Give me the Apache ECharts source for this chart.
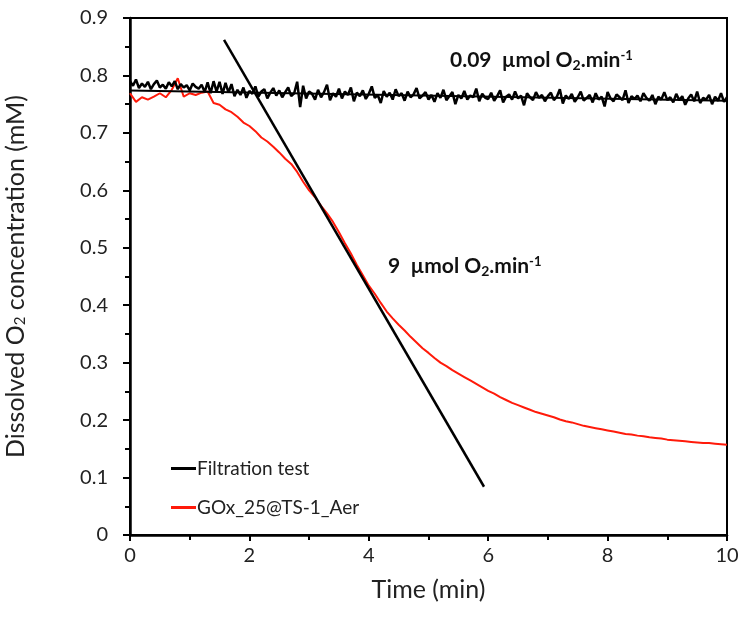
<!DOCTYPE html>
<html>
<head>
<meta charset="utf-8">
<script src="https://cdn.jsdelivr.net/npm/echarts@6/dist/echarts.min.js"></script>
<style>html,body{margin:0;padding:0;background:#fff;}#chart{width:743px;height:617px;}</style>
</head>
<body>
<div id="chart"></div>
<script>
// Filtration test (black), sampled every 0.05 min from t = 0
const blackStart = 0;
const blackStep = 0.05;
const blackValues = [
0.790,0.782,0.793,0.778,0.786,0.780,0.789,0.776,0.785,0.791,0.779,0.784,0.777,0.788,0.781,0.790,0.776,0.785,0.779,0.783,0.774,0.786,0.780,0.777,0.784,
0.771,0.788,0.769,0.790,0.772,0.789,0.768,0.787,0.770,0.785,
0.764,0.775,0.766,0.779,0.761,0.773,0.768,0.781,0.763,0.772,0.776,0.760,0.770,0.778,0.765,0.774,0.762,0.771,0.779,0.764,0.769,
0.789,0.745,0.782,0.760,0.772,
0.768,0.758,0.775,0.762,0.771,0.784,0.757,0.769,0.763,0.777,0.760,0.772,0.766,0.779,0.755,0.770,0.764,0.774,0.759,0.768,
0.781,0.761,0.766,0.752,0.773,0.763,0.770,0.758,0.776,0.764,0.769,0.756,0.772,0.762,0.767,0.778,0.760,0.765,0.771,0.758,
0.766,0.754,0.769,0.761,0.775,0.757,0.764,0.771,0.750,0.766,0.760,0.773,0.758,0.765,0.762,0.777,0.755,0.768,0.761,0.759,
0.770,0.756,0.764,0.774,0.753,0.763,0.767,0.758,0.772,0.760,0.765,0.748,0.769,0.762,0.757,0.771,0.761,0.766,0.755,0.764,
0.770,0.757,0.763,0.776,0.751,0.765,0.759,0.768,0.754,0.762,0.772,0.756,0.761,0.766,0.753,0.769,0.758,0.763,0.746,0.771,
0.760,0.755,0.767,0.762,0.757,0.774,0.752,0.764,0.759,0.765,0.755,0.769,0.761,0.756,0.766,0.750,0.763,0.758,0.771,0.757,
0.762,0.753,0.768,0.757,0.764,0.749,0.760,0.767,0.755,0.772,0.752,0.761,0.758,0.766,0.750,0.763,0.756,0.769,0.754,0.762
];
// GOx_25@TS-1_Aer (red), sampled every 0.1 min from t = 0
const redStart = 0;
const redStep = 0.1;
const redValues = [
0.769,0.754,0.762,0.758,0.763,0.769,0.762,0.775,0.795,0.763,0.769,0.766,0.770,
0.772,0.752,0.749,0.741,0.736,0.728,0.718,0.712,0.703,0.692,0.685,0.676,0.666,0.655,0.646,0.632,0.615,
0.600,0.588,0.573,0.560,0.545,0.527,0.508,0.490,0.470,0.452,0.434,0.420,0.404,0.389,0.377,0.366,0.356,0.345,0.335,0.325,
0.317,0.308,0.300,0.294,0.287,0.281,0.275,0.269,0.263,0.257,0.251,0.246,0.240,0.235,0.230,0.226,0.222,0.218,0.214,0.211,
0.208,0.205,0.201,0.198,0.196,0.193,0.190,0.188,0.186,0.184,0.182,0.180,0.178,0.176,0.175,0.173,0.172,0.170,0.169,0.168,
0.166,0.165,0.164,0.163,0.162,0.161,0.160,0.160,0.159,0.158,0.157
];
// Linear fits
const flatFitX = [0, 10];
const flatFitY = [0.774, 0.756];
const tangentX = [1.575, 5.93];
const tangentY = [0.862, 0.084];
// Axis ticks
const xMin = 0, xMax = 10, xInterval = 2;
const yMin = 0, yMax = 0.9, yInterval = 0.1;
const seriesNames = ['Filtration test', 'GOx_25@TS-1_Aer'];

const FONT = 'Lato';
const chart = echarts.init(document.getElementById('chart'));
const toPairs = (start, step, vals) => vals.map((v, i) => [+(start + i * step).toFixed(3), v]);
const zip = (xs, ys) => xs.map((x, i) => [x, ys[i]]);
const annRich = {
  sub: { fontSize: 14, fontWeight: 'bold', verticalAlign: 'bottom', padding: [9, 0, 0, 0], fontFamily: FONT, fill: '#111' },
  sup: { fontSize: 13, fontWeight: 'bold', verticalAlign: 'top', padding: [0, 0, 8, 0], fontFamily: FONT, fill: '#111' }
};

chart.setOption({
  animation: false,
  backgroundColor: '#fff',
  textStyle: { fontFamily: FONT },
  grid: { left: 130, right: 16, top: 18, bottom: 82, containLabel: false, outerBoundsMode: 'none',
    show: true, borderColor: '#000', borderWidth: 2, backgroundColor: 'transparent' },
  xAxis: {
    type: 'value', min: xMin, max: xMax, interval: xInterval,
    name: 'Time (min)', nameLocation: 'middle', nameGap: 42,
    nameTextStyle: { fontSize: 25, color: '#222', fontFamily: FONT },
    axisLine: { show: true, lineStyle: { color: '#000', width: 2.5 } },
    axisTick: { show: true, length: 6, inside: false, lineStyle: { color: '#000', width: 2 } },
    minorTick: { show: true, splitNumber: 2, length: 5, lineStyle: { color: '#000', width: 2 } },
    axisLabel: { fontSize: 20, color: '#222', margin: 11, fontFamily: FONT },
    splitLine: { show: false }
  },
  yAxis: {
    type: 'value', min: yMin, max: yMax, interval: yInterval,
    name: 'Dissolved O{sub|2} concentration (mM)', nameLocation: 'middle', nameGap: 102,
    nameTextStyle: { fontSize: 25, color: '#222', fontFamily: FONT,
      rich: { sub: { fontSize: 15, verticalAlign: 'bottom', padding: [10, 0, 0, 0], color: '#222', fontFamily: FONT } } },
    axisLine: { show: true, lineStyle: { color: '#000', width: 2.5 } },
    axisTick: { show: true, length: 7, lineStyle: { color: '#000', width: 2 } },
    minorTick: { show: true, splitNumber: 2, length: 5, lineStyle: { color: '#000', width: 2 } },
    axisLabel: { fontSize: 20, color: '#222', margin: 22, fontFamily: FONT,
      formatter: v => (v === 0 ? '0' : v.toFixed(1)) },
    splitLine: { show: false }
  },
  legend: {
    data: seriesNames, orient: 'vertical', left: 166, top: 454,
    itemWidth: 25, itemHeight: 3, itemGap: 20, icon: 'rect',
    textStyle: { fontSize: 19, color: '#222', fontFamily: FONT, padding: [0, 0, 0, -4] }
  },
  series: [
    { name: seriesNames[0], type: 'line', data: toPairs(blackStart, blackStep, blackValues), showSymbol: false,
      lineStyle: { color: '#000', width: 2.5 }, itemStyle: { color: '#000' }, z: 3 },
    { name: seriesNames[1], type: 'line', data: toPairs(redStart, redStep, redValues), showSymbol: false,
      lineStyle: { color: '#ff1a0a', width: 2 }, itemStyle: { color: '#ff1a0a' }, z: 2 },
    { name: 'flat fit', type: 'line', data: zip(flatFitX, flatFitY), showSymbol: false,
      lineStyle: { color: '#000', width: 2 }, z: 4 },
    { name: 'tangent', type: 'line', data: zip(tangentX, tangentY), showSymbol: false,
      lineStyle: { color: '#000', width: 2.5 }, z: 5 }
  ],
  graphic: [
    { type: 'text', left: 450, top: 49, style: {
        text: '0.09  µmol O{sub|2}.min{sup|-1}', fontSize: 21, fontWeight: 'bold', fill: '#111', fontFamily: FONT, rich: annRich } },
    { type: 'text', left: 388, top: 255, style: {
        text: '9  µmol O{sub|2}.min{sup|-1}', fontSize: 21, fontWeight: 'bold', fill: '#111', fontFamily: FONT, rich: annRich } }
  ]
});
</script>
</body>
</html>
